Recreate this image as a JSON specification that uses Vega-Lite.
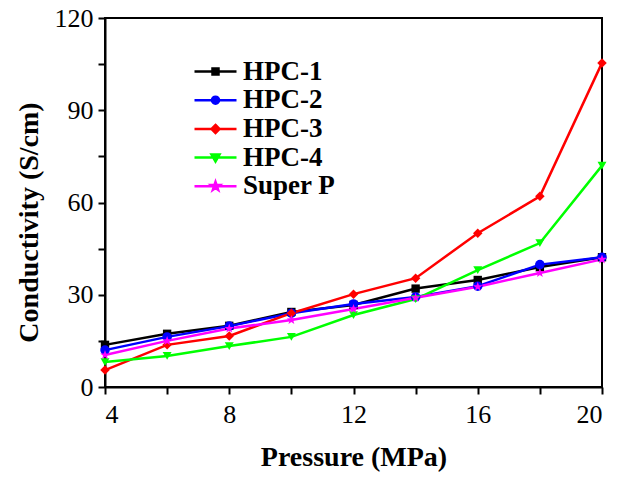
{
  "$schema": "https://vega.github.io/schema/vega-lite/v6.json",
  "width": 497,
  "height": 369,
  "autosize": "none",
  "padding": {"left": 105, "top": 18, "right": 19, "bottom": 94},
  "background": "white",
  "config": {
    "view": {"stroke": "black", "strokeWidth": 2},
    "font": "Liberation Serif",
    "axis": {"labelFont": "'Times New Roman', 'Liberation Serif', serif"}
  },
  "data": {
    "values": [
      {"p": 4, "c": 13.7, "s": "HPC-1"}, {"p": 6, "c": 17.3, "s": "HPC-1"}, {"p": 8, "c": 19.9, "s": "HPC-1"}, {"p": 10, "c": 24.4, "s": "HPC-1"}, {"p": 12, "c": 26.7, "s": "HPC-1"}, {"p": 14, "c": 32.0, "s": "HPC-1"}, {"p": 16, "c": 34.8, "s": "HPC-1"}, {"p": 18, "c": 39.0, "s": "HPC-1"}, {"p": 20, "c": 42.2, "s": "HPC-1"},
      {"p": 4, "c": 12.0, "s": "HPC-2"}, {"p": 6, "c": 16.3, "s": "HPC-2"}, {"p": 8, "c": 19.8, "s": "HPC-2"}, {"p": 10, "c": 24.0, "s": "HPC-2"}, {"p": 12, "c": 27.0, "s": "HPC-2"}, {"p": 14, "c": 29.3, "s": "HPC-2"}, {"p": 16, "c": 32.8, "s": "HPC-2"}, {"p": 18, "c": 39.8, "s": "HPC-2"}, {"p": 20, "c": 42.2, "s": "HPC-2"},
      {"p": 4, "c": 5.5, "s": "HPC-3"}, {"p": 6, "c": 13.7, "s": "HPC-3"}, {"p": 8, "c": 16.6, "s": "HPC-3"}, {"p": 10, "c": 24.0, "s": "HPC-3"}, {"p": 12, "c": 30.2, "s": "HPC-3"}, {"p": 14, "c": 35.4, "s": "HPC-3"}, {"p": 16, "c": 50.0, "s": "HPC-3"}, {"p": 18, "c": 62.0, "s": "HPC-3"}, {"p": 20, "c": 105.4, "s": "HPC-3"},
      {"p": 4, "c": 8.1, "s": "HPC-4"}, {"p": 6, "c": 10.1, "s": "HPC-4"}, {"p": 8, "c": 13.3, "s": "HPC-4"}, {"p": 10, "c": 16.3, "s": "HPC-4"}, {"p": 12, "c": 23.4, "s": "HPC-4"}, {"p": 14, "c": 28.6, "s": "HPC-4"}, {"p": 16, "c": 38.0, "s": "HPC-4"}, {"p": 18, "c": 46.8, "s": "HPC-4"}, {"p": 20, "c": 72.0, "s": "HPC-4"},
      {"p": 4, "c": 10.4, "s": "Super P"}, {"p": 6, "c": 15.0, "s": "Super P"}, {"p": 8, "c": 19.0, "s": "Super P"}, {"p": 10, "c": 21.8, "s": "Super P"}, {"p": 12, "c": 25.4, "s": "Super P"}, {"p": 14, "c": 29.0, "s": "Super P"}, {"p": 16, "c": 32.6, "s": "Super P"}, {"p": 18, "c": 37.1, "s": "Super P"}, {"p": 20, "c": 41.5, "s": "Super P"}
    ]
  },
  "encoding": {
    "x": {
      "field": "p", "type": "quantitative",
      "scale": {"domain": [4, 20], "nice": false},
      "axis": {
        "title": "Pressure (MPa)",
        "values": [4, 6, 8, 10, 12, 14, 16, 18, 20],
        "labelExpr": "datum.value % 4 === 0 ? datum.label : ''",
        "grid": false,
        "domainColor": "black", "domainWidth": 2,
        "tickColor": "black", "tickWidth": 2, "tickSize": 7,
        "labelFontSize": 26, "labelColor": "black",
        "labelPadding": 7,
        "titleFont": "Liberation Serif", "titleFontSize": 28, "titleFontWeight": "bold", "titleColor": "black",
        "titlePadding": 16
      }
    },
    "y": {
      "field": "c", "type": "quantitative",
      "scale": {"domain": [0, 120], "nice": false},
      "axis": {
        "title": "Conductivity (S/cm)",
        "values": [0, 15, 30, 45, 60, 75, 90, 105, 120],
        "labelExpr": "datum.value % 30 === 0 ? datum.label : ''",
        "grid": false,
        "domainColor": "black", "domainWidth": 2,
        "tickColor": "black", "tickWidth": 2, "tickSize": 7,
        "labelFontSize": 26, "labelColor": "black",
        "labelPadding": 5,
        "titleFont": "Liberation Serif", "titleFontSize": 28, "titleFontWeight": "bold", "titleColor": "black",
        "titlePadding": 11,
        "titleY": 204
      }
    },
    "color": {
      "field": "s", "type": "nominal",
      "scale": {"domain": ["HPC-1", "HPC-2", "HPC-3", "HPC-4", "Super P"], "range": ["#000000", "#0000ff", "#ff0000", "#00ff00", "#ff00ff"]},
      "legend": {
        "title": null,
        "orient": "none",
        "legendX": 97,
        "legendY": 40,
        "padding": 0,
        "symbolSize": 100,
        "labelOffset": 14,
        "rowPadding": 0.7,
        "labelFont": "Liberation Serif", "labelFontSize": 27, "labelFontWeight": "bold", "labelColor": "black",
        "encode": {
          "symbols": {
            "update": {
              "shape": {"signal": "datum.value === 'HPC-1' ? 'M-4.2,0H4.2M-0.6,-0.6H0.6V0.6H-0.6Z' : datum.value === 'HPC-2' ? 'M-4.2,0H4.2M-0.7,0A0.7,0.7 0 1,0 0.7,0A0.7,0.7 0 1,0 -0.7,0Z' : datum.value === 'HPC-3' ? 'M-4.2,0H4.2M0,-0.8L0.8,0L0,0.8L-0.8,0Z' : datum.value === 'HPC-4' ? 'M-4.2,0H4.2M-0.8,-0.6L0.8,-0.6L0,0.8Z' : 'M-4.2,0H4.2M0,-0.9L0.21,-0.29L0.86,-0.28L0.34,0.11L0.53,0.73L0,0.36L-0.53,0.73L-0.34,0.11L-0.86,-0.28L-0.21,-0.29Z'"},
              "fill": {"signal": "scale('color', datum.value)"},
              "stroke": {"signal": "scale('color', datum.value)"},
              "strokeWidth": {"value": 2.5},
              "opacity": {"value": 1},
              "size": {"value": 100}
            }
          }
        }
      }
    }
  },
  "layer": [
    {"mark": {"type": "line", "strokeWidth": 2.5, "clip": false}},
    {"transform": [{"filter": "datum.s === 'HPC-1'"}], "mark": {"type": "point", "shape": "square", "filled": true, "opacity": 1, "size": 70, "clip": false}},
    {"transform": [{"filter": "datum.s === 'HPC-2'"}], "mark": {"type": "point", "shape": "circle", "filled": true, "opacity": 1, "size": 90, "clip": false}},
    {"transform": [{"filter": "datum.s === 'HPC-3'"}], "mark": {"type": "point", "shape": "diamond", "filled": true, "opacity": 1, "size": 90, "clip": false}},
    {"transform": [{"filter": "datum.s === 'HPC-4'"}], "mark": {"type": "point", "shape": "triangle-down", "filled": true, "opacity": 1, "size": 80, "clip": false}},
    {"transform": [{"filter": "datum.s === 'Super P'"}], "mark": {"type": "point", "shape": "M0,-1L0.235,-0.324L0.951,-0.309L0.380,0.124L0.588,0.809L0,0.4L-0.588,0.809L-0.380,0.124L-0.951,-0.309L-0.235,-0.324Z", "filled": true, "opacity": 1, "size": 100, "clip": false}}
  ]
}
